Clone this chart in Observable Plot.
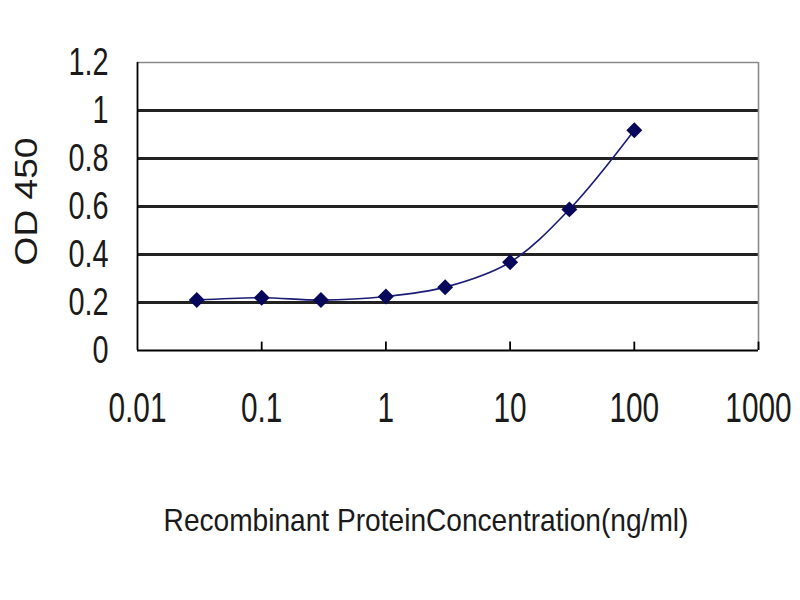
<!DOCTYPE html>
<html>
<head>
<meta charset="utf-8">
<script src="https://cdn.jsdelivr.net/npm/d3@7"></script>
<script src="https://cdn.jsdelivr.net/npm/@observablehq/plot@0.6"></script>
<style>
  body { margin: 0; background: #fff; }
  #chart svg { display: block; }
</style>
</head>
<body>
<div id="chart"></div>
<script>
// concentration (ng/ml) and OD 450 readings
const conc = [0.03, 0.1, 0.3, 1, 3, 10, 30, 100];
const od = [0.21, 0.22, 0.21, 0.225, 0.264, 0.368, 0.588, 0.918];
const xTicks = [0.01, 0.1, 1, 10, 100, 1000];
const yTicks = [0, 0.2, 0.4, 0.6, 0.8, 1, 1.2];
const gridY = [0.2, 0.4, 0.6, 0.8, 1];
const xTitle = "Recombinant ProteinConcentration(ng/ml)";
const yTitle = "OD 450";

const points = conc.map((c, i) => ({ conc: c, od: od[i] }));

const font = "'Liberation Sans', Arial, sans-serif";

const plot = Plot.plot({
  width: 800,
  height: 600,
  marginLeft: 137,
  marginRight: 42,
  marginTop: 62,
  marginBottom: 250,
  style: { fontFamily: font, color: "#1a1a1a", background: "#fff" },
  x: { type: "log", domain: [0.01, 1000] },
  y: { domain: [0, 1.2] },
  marks: [
    // gridlines
    Plot.ruleY(gridY, { stroke: "#222", strokeWidth: 2.8 }),
    Plot.ruleY([1.2], { stroke: "#8a8a8a", strokeWidth: 1.6 }),
    Plot.ruleX([1000], { stroke: "#8a8a8a", strokeWidth: 1.6 }),
    // axis lines
    Plot.ruleX([0.01], { stroke: "#000", strokeWidth: 1.8 }),
    Plot.ruleY([0], { stroke: "#000", strokeWidth: 1.8 }),
    // inward ticks on x axis
    Plot.ruleX(xTicks.slice(1), { y1: 0, y2: 0.035, stroke: "#000", strokeWidth: 1.8 }),
    Plot.axisX(xTicks, {
      tickSize: 0,
      tickPadding: 42,
      fontSize: 42,
      tickFormat: (d) => String(d),
      label: null
    }),
    Plot.axisY(yTicks, {
      tickSize: 0,
      tickPadding: 29,
      fontSize: 39,
      tickFormat: (d) => String(d),
      label: null
    }),
    Plot.line(points, {
      x: "conc",
      y: "od",
      curve: "catmull-rom",
      stroke: "#1c1c78",
      strokeWidth: 1.6
    }),
    Plot.dot(points, {
      x: "conc",
      y: "od",
      symbol: "diamond2",
      r: 7.2,
      fill: "#08085a",
      stroke: "none"
    }),
    Plot.text([xTitle], {
      frameAnchor: "bottom",
      lineAnchor: "middle",
      dx: -22,
      dy: 170,
      fontSize: 32,
      fill: "#1a1a1a"
    }),
    Plot.text([yTitle], {
      frameAnchor: "left",
      textAnchor: "middle",
      lineAnchor: "middle",
      dx: -111,
      dy: -5,
      rotate: -90,
      fontSize: 32,
      fill: "#1a1a1a"
    })
  ]
});

document.querySelector("#chart").append(plot);

// the original uses a condensed face: squeeze each text horizontally
// (along its own direction) about its anchor point
function squeeze(t, factor) {
  const tr = t.getAttribute("transform") || "";
  t.setAttribute("transform", `${tr} scale(${factor},1)`);
}
plot.querySelectorAll('[aria-label="x-axis tick label"] text').forEach((t) => squeeze(t, 0.71));
plot.querySelectorAll('[aria-label="y-axis tick label"] text').forEach((t) => squeeze(t, 0.74));
plot.querySelectorAll("text").forEach((t) => {
  if (t.textContent === xTitle) squeeze(t, 525 / t.getComputedTextLength());
  if (t.textContent === yTitle) squeeze(t, 128 / t.getComputedTextLength());
});
</script>
</body>
</html>
